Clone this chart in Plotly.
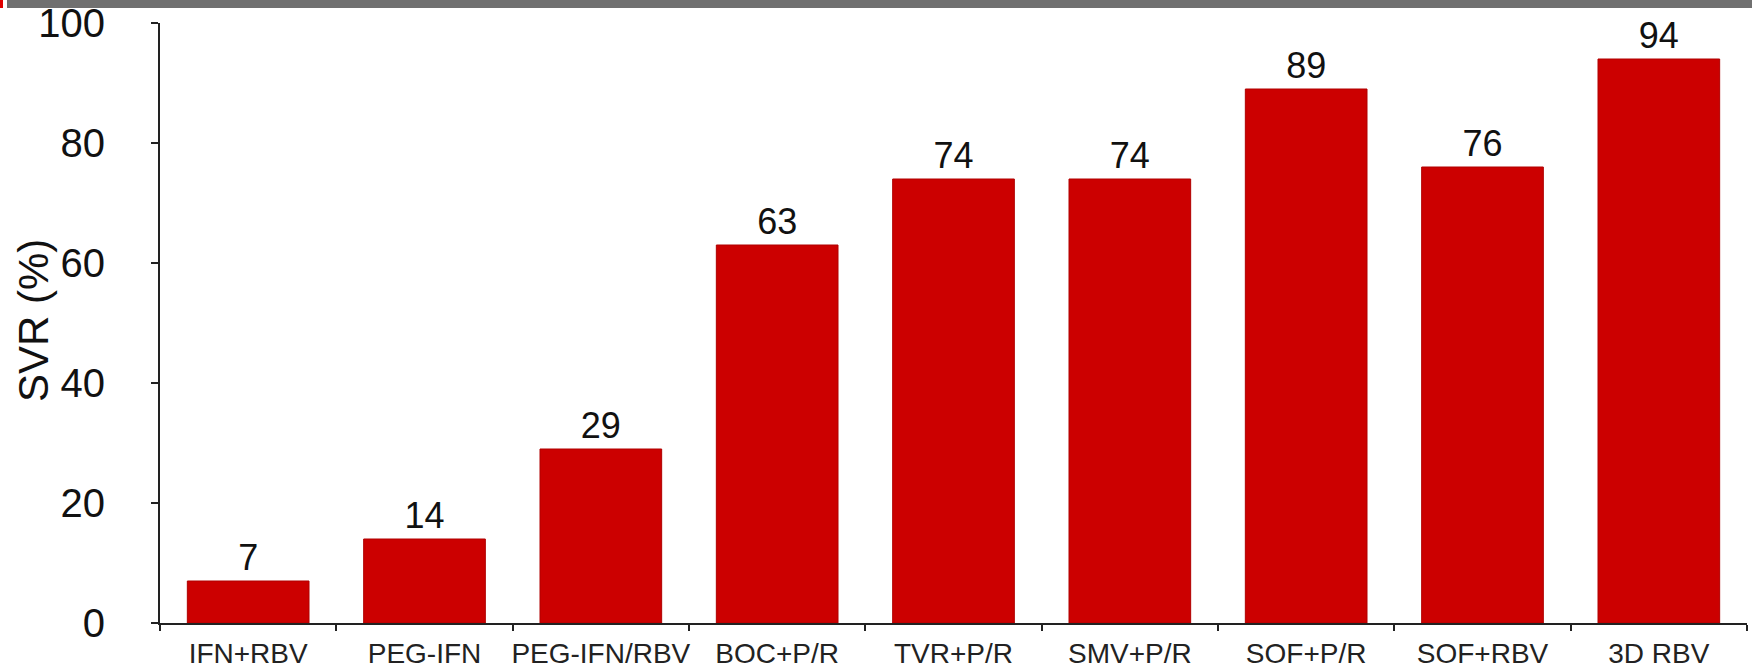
import plotly.graph_objects as go

# SVR rates by HCV treatment regimen
regimens = ["IFN+RBV", "PEG-IFN", "PEG-IFN/RBV", "BOC+P/R", "TVR+P/R",
            "SMV+P/R", "SOF+P/R", "SOF+RBV", "3D RBV"]
svr_pct = [7, 14, 29, 63, 74, 74, 89, 76, 94]
y_ticks = [0, 20, 40, 60, 80, 100]

W, H = 1752, 670
L, R, T, B = 160, 5, 23, 47
plot_w = W - L - R
plot_h = H - T - B

FONT = "Liberation Sans, Arial, sans-serif"

fig = go.Figure(
    go.Bar(
        x=regimens,
        y=svr_pct,
        width=0.69,
        marker=dict(color="#cc0000", line=dict(color="#b00000", width=1)),
        text=[str(v) for v in svr_pct],
        textposition="outside",
        textfont=dict(family=FONT, size=36, color="#111111"),
        cliponaxis=False,
        hoverinfo="x+y",
    )
)

fig.update_layout(
    width=W,
    height=H,
    margin=dict(l=L, r=R, t=T, b=B, pad=0, autoexpand=False),
    paper_bgcolor="white",
    plot_bgcolor="white",
    showlegend=False,
    bargap=0.31,
    font=dict(family=FONT, color="#111111"),
)

fig.update_xaxes(
    type="category",
    range=[-0.5, len(regimens) - 0.5],
    automargin=False,
    showline=True,
    linecolor="#222222",
    linewidth=2,
    ticks="outside",
    tickson="boundaries",
    ticklen=6,
    tickwidth=2,
    tickcolor="#222222",
    tickangle=0,
    tickfont=dict(family=FONT, size=28, color="#222222"),
    ticklabelstandoff=4,
    showgrid=False,
    zeroline=False,
)

fig.update_yaxes(
    range=[0, 100],
    tickvals=y_ticks,
    automargin=False,
    showline=True,
    linecolor="#222222",
    linewidth=2,
    ticks="outside",
    ticklen=7,
    tickwidth=2,
    tickcolor="#222222",
    tickfont=dict(family=FONT, size=40, color="#111111"),
    ticklabelstandoff=38,
    showgrid=False,
    zeroline=False,
)

# Vertical axis title
fig.add_annotation(
    text="SVR (%)",
    textangle=-90,
    xref="paper", yref="paper",
    x=(33 - L) / plot_w, y=(H - B - 320) / plot_h,
    xanchor="center", yanchor="middle",
    showarrow=False,
    font=dict(family=FONT, size=42, color="#111111"),
)

# Header strip across the top with a small red marker at the left edge
fig.add_shape(
    type="rect", xref="paper", yref="paper",
    x0=(7 - L) / plot_w, x1=(W - L) / plot_w + 0.01,
    y0=(H - B - 8) / plot_h, y1=(H - B) / plot_h + 0.01,
    fillcolor="#707070", line=dict(width=0), layer="above",
)
fig.add_shape(
    type="rect", xref="paper", yref="paper",
    x0=(0 - L) / plot_w - 0.01, x1=(3 - L) / plot_w,
    y0=(H - B - 8) / plot_h, y1=(H - B) / plot_h + 0.01,
    fillcolor="#e00000", line=dict(width=0), layer="above",
)

fig.write_html("out.html")
